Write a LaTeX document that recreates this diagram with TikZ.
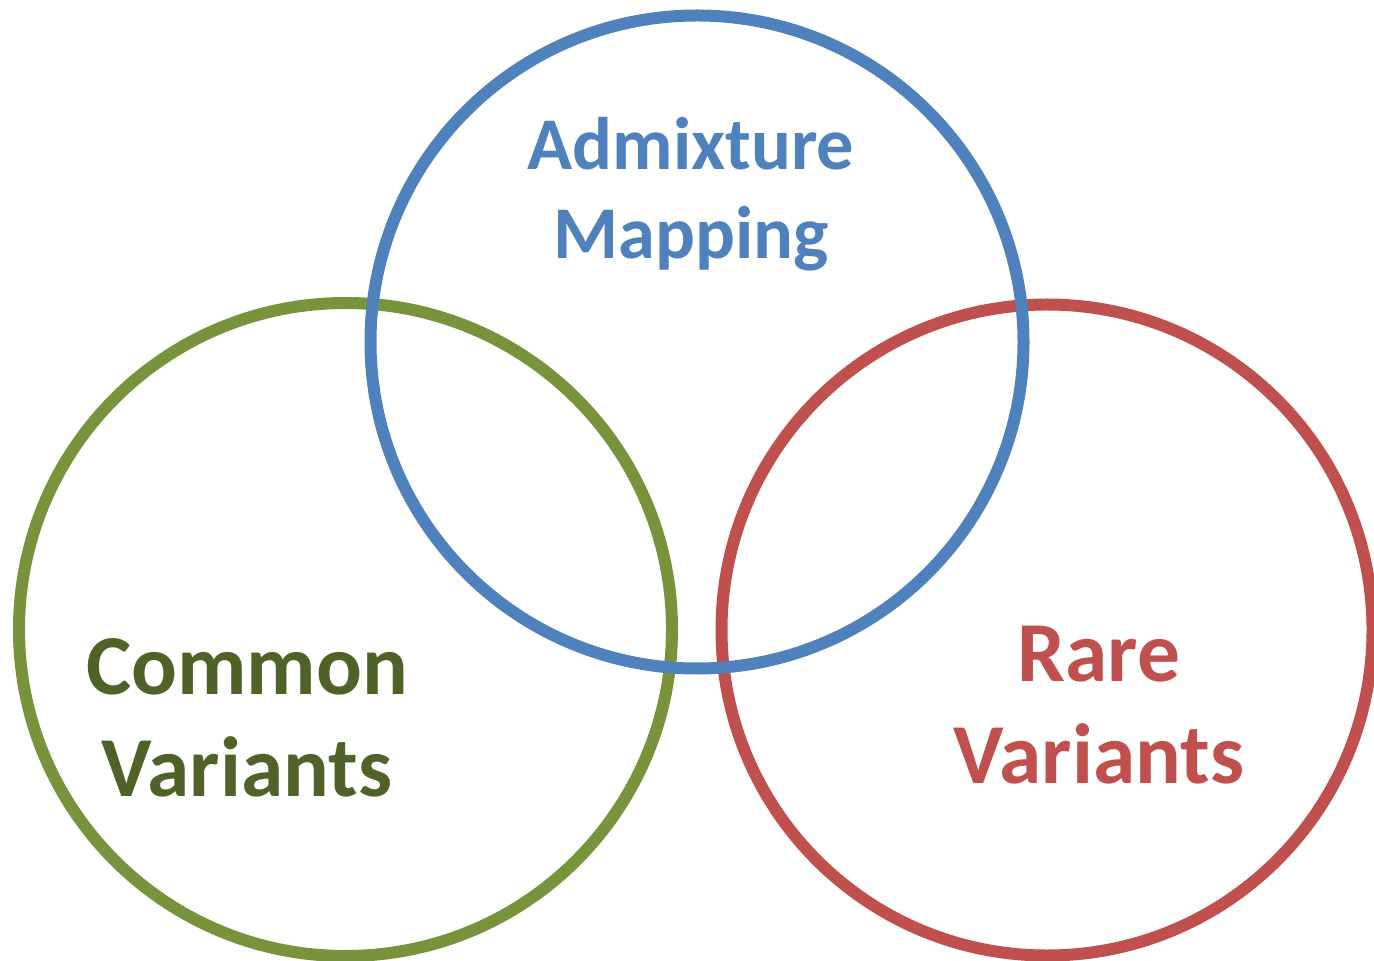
\documentclass[tikz,border=0pt]{standalone}
\usepackage{fontspec}
\setmainfont{Carlito}
\usepackage{tikz}

\definecolor{admixblue}{HTML}{4F81BD}
\definecolor{commongreen}{HTML}{77933C}
\definecolor{commontext}{HTML}{4F6228}
\definecolor{rarered}{HTML}{C0504D}

\begin{document}
\begin{tikzpicture}[x=0.5pt, y=-0.5pt,
  ring/.style={line width=6pt},
  venntext/.style={align=center, font=\bfseries\fontsize{42.7}{51}\selectfont}]
\useasboundingbox (0,0) rectangle (1374,961);

\draw[ring, commongreen] (345.5,629.5) circle[radius=326.5];
\draw[ring, rarered] (1047,630) circle[radius=325.5];
\draw[ring, admixblue] (697,342) circle[radius=326.5];

\node[venntext, text=admixblue, font=\bfseries\fontsize{37.2}{44.5}\selectfont] (admix) at (691,194) {Admixture\\Mapping};
\node[venntext, text=commontext] (common) at (247,718) {Common\\Variants};
\node[venntext, text=rarered] (rare) at (1099,705) {Rare\\Variants};
\end{tikzpicture}
\end{document}
